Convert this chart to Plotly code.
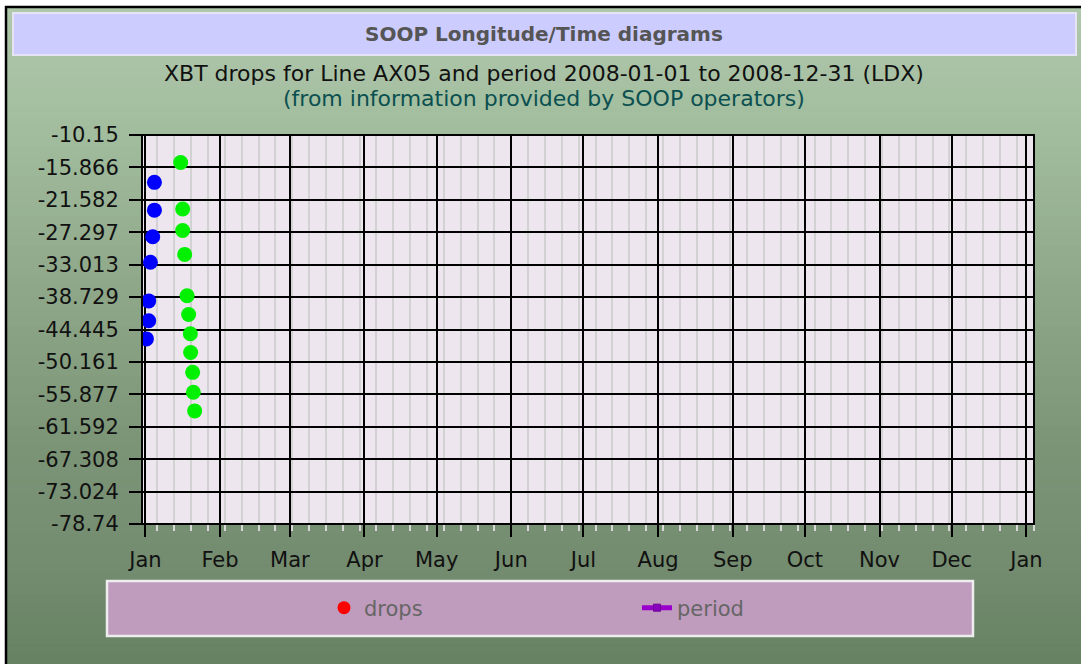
import plotly.graph_objects as go

# ---------------- data ----------------
cruise1_dates = ["2008-01-04 18:00", "2008-01-04 18:00", "2008-01-04 01:00", "2008-01-03 02:00",
                 "2008-01-02 09:00", "2008-01-02 09:00", "2008-01-01 10:00"]
cruise1_vals = [-18.5, -23.4, -28.1, -32.6, -39.4, -42.9, -46.1]

cruise2_dates = ["2008-01-15 15:30", "2008-01-16 11:30", "2008-01-16 11:30", "2008-01-17 07:30",
                 "2008-01-18 07:30", "2008-01-18 23:00", "2008-01-19 16:00", "2008-01-19 19:00",
                 "2008-01-20 15:00", "2008-01-20 22:00", "2008-01-21 11:00"]
cruise2_vals = [-15.0, -23.2, -27.0, -31.2, -38.5, -41.8, -45.2, -48.5, -52.0, -55.5, -58.8]

month_ticks = ["2008-01-01", "2008-02-01", "2008-03-01", "2008-04-01", "2008-05-01", "2008-06-01",
               "2008-07-01", "2008-08-01", "2008-09-01", "2008-10-01", "2008-11-01", "2008-12-01",
               "2009-01-01"]
month_labels = ["Jan", "Feb", "Mar", "Apr", "May", "Jun", "Jul", "Aug", "Sep", "Oct", "Nov", "Dec", "Jan"]

y_ticks = [-10.15, -15.866, -21.582, -27.297, -33.013, -38.729, -44.445, -50.161, -55.877,
           -61.592, -67.308, -73.024, -78.74]
y_labels = ["-10.15", "-15.866", "-21.582", "-27.297", "-33.013", "-38.729", "-44.445", "-50.161",
            "-55.877", "-61.592", "-67.308", "-73.024", "-78.74"]

title_text = "SOOP Longitude/Time diagrams"
sub1_text = "XBT drops for Line AX05 and period 2008-01-01 to 2008-12-31 (LDX)"
sub2_text = "(from information provided by SOOP operators)"

# ---------------- layout geometry ----------------
W, H = 1081, 664
PL, PR, PT, PB = 142, 1034, 135, 524
FONT = "DejaVu Sans"


def px(x):
    return (x - PL) / (PR - PL)


def py(y):
    return (PB - y) / (PB - PT)


fig = go.Figure()

fig.add_trace(go.Scatter(x=cruise1_dates, y=cruise1_vals, mode="markers",
                         marker=dict(color="#0000FF", size=15, line=dict(width=0)),
                         showlegend=False, hoverinfo="x+y"))
fig.add_trace(go.Scatter(x=cruise2_dates, y=cruise2_vals, mode="markers",
                         marker=dict(color="#00F000", size=15, line=dict(width=0)),
                         showlegend=False, hoverinfo="x+y"))
# legend entries
fig.add_trace(go.Scatter(x=[None], y=[None], mode="markers", name="drops",
                         marker=dict(color="#FF0000", size=13), legend="legend"))
fig.add_trace(go.Scatter(x=[None], y=[None], mode="lines+markers", name="period",
                         line=dict(color="#9900CC", width=5),
                         marker=dict(color="#8A00C0", size=7, symbol="square",
                                     line=dict(color="#6A0090", width=1)),
                         legend="legend2"))

shapes = []
# green gradient background
stops = [(7, (176, 200, 172)), (130, (162, 188, 158)), (300, (142, 166, 136)),
         (450, (124, 148, 118)), (580, (114, 138, 110)), (664, (102, 130, 98))]
nb = 66
y0 = 7
for i in range(nb):
    ya = y0 + (H - y0) * i / nb
    yb = y0 + (H - y0) * (i + 1) / nb
    ym = (ya + yb) / 2
    for (s0, c0), (s1, c1) in zip(stops[:-1], stops[1:]):
        if s0 <= ym <= s1:
            t = (ym - s0) / (s1 - s0)
            col = tuple(round(a + (b - a) * t) for a, b in zip(c0, c1))
            break
    shapes.append(dict(type="rect", xref="paper", yref="paper", layer="below",
                       x0=px(6), x1=px(W + 30), y0=py(ya), y1=py(yb + 1.5 if i < nb - 1 else H + 30),
                       fillcolor="rgb(%d,%d,%d)" % col, line=dict(width=0)))
# plot area background
shapes.append(dict(type="rect", xref="paper", yref="paper", layer="below",
                   x0=0, x1=1, y0=0, y1=1, fillcolor="#EEE6EE", line=dict(width=0)))
# black frame lines (top and left)
shapes.append(dict(type="line", xref="paper", yref="paper", layer="below",
                   x0=px(5), x1=px(W + 30), y0=py(7), y1=py(7), line=dict(color="#000", width=2.5)))
shapes.append(dict(type="line", xref="paper", yref="paper", layer="below",
                   x0=px(6), x1=px(6), y0=py(6), y1=py(H + 30), line=dict(color="#000", width=2.5)))
# title bar
shapes.append(dict(type="rect", xref="paper", yref="paper", layer="below",
                   x0=px(13), x1=px(1076), y0=py(13), y1=py(55),
                   fillcolor="#CCCCFF", line=dict(color="#E4E4F4", width=2)))
# legend box
shapes.append(dict(type="rect", xref="paper", yref="paper", layer="below",
                   x0=px(107), x1=px(973), y0=py(581), y1=py(636),
                   fillcolor="#BF9BBD", line=dict(color="#EEEEEE", width=2.5)))
# plot border
shapes.append(dict(type="rect", xref="paper", yref="paper", layer="above",
                   x0=0, x1=1, y0=0, y1=1, line=dict(color="#000", width=2)))

annotations = [
    dict(text="<b>" + title_text + "</b>", x=px(544), y=py(34), xref="paper", yref="paper",
         showarrow=False, xanchor="center", yanchor="middle",
         font=dict(family=FONT, size=20, color="#555555")),
    dict(text=sub1_text, x=px(544), y=py(74), xref="paper", yref="paper",
         showarrow=False, xanchor="center", yanchor="middle",
         font=dict(family=FONT, size=22, color="#111111")),
    dict(text=sub2_text, x=px(544), y=py(98), xref="paper", yref="paper",
         showarrow=False, xanchor="center", yanchor="middle",
         font=dict(family=FONT, size=22, color="#0B5050")),
]

fig.update_layout(
    width=W, height=H,
    margin=dict(l=PL, r=W - PR, t=PT, b=H - PB, pad=0),
    paper_bgcolor="#FFFFFF",
    plot_bgcolor="#EEE6EE",
    font=dict(family=FONT, size=21, color="#111111"),
    shapes=shapes,
    annotations=annotations,
    legend=dict(x=px(324), y=py(608), xanchor="left", yanchor="middle",
                bgcolor="rgba(0,0,0,0)", borderwidth=0,
                font=dict(family=FONT, size=21, color="#666666")),
    legend2=dict(x=px(637), y=py(608), xanchor="left", yanchor="middle",
                 bgcolor="rgba(0,0,0,0)", borderwidth=0,
                 font=dict(family=FONT, size=21, color="#666666")),
    xaxis=dict(
        type="date",
        range=["2007-12-30 14:00", "2009-01-04 04:00"],
        tickmode="array", tickvals=month_ticks, ticktext=month_labels,
        showgrid=True, gridcolor="#000000", gridwidth=1.5,
        ticks="outside", ticklen=12, tickwidth=2, tickcolor="#000000",
        ticklabelstandoff=5,
        tickfont=dict(family=FONT, size=21, color="#111111"),
        showline=False, zeroline=False,
        minor=dict(dtick=7 * 86400000, tick0="2008-01-06", showgrid=True,
                   gridcolor="#D2D2D2", gridwidth=1.5,
                   ticks="outside", ticklen=6, tickwidth=2, tickcolor="#D8D8D8"),
    ),
    yaxis=dict(
        range=[-78.74, -10.15],
        tickmode="array", tickvals=y_ticks, ticktext=y_labels,
        showgrid=True, gridcolor="#000000", gridwidth=1.5,
        ticks="outside", ticklen=12, tickwidth=2, tickcolor="#000000",
        ticklabelstandoff=6,
        tickfont=dict(family=FONT, size=21, color="#111111"),
        showline=False, zeroline=False,
    ),
)

fig.write_html("out.html", config={"displayModeBar": False},
               post_script="document.body.style.margin='0';")
